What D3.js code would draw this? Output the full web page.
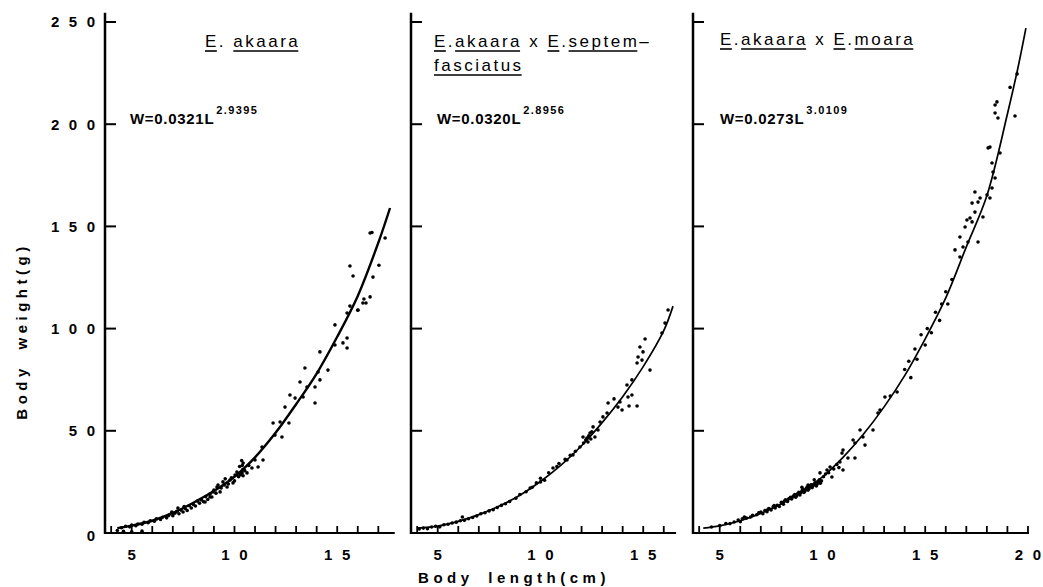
<!DOCTYPE html>
<html>
<head>
<meta charset="utf-8">
<script src="https://cdn.jsdelivr.net/npm/d3@7"></script>
<style>
  body { margin: 0; background: #fff; }
  svg { display: block; }
  .tick-label { font-family: "Liberation Sans", Arial, sans-serif; font-weight: bold; font-size: 15px; fill: #000; }
  .title { font-family: "Liberation Sans", Arial, sans-serif; font-size: 17px; letter-spacing: 2.5px; fill: #000; white-space: pre; }
  .eq { font-family: "Liberation Sans", Arial, sans-serif; font-weight: bold; fill: #000; }
  .axis-title { font-family: "Liberation Sans", Arial, sans-serif; font-weight: bold; font-size: 15px; letter-spacing: 4.5px; word-spacing: 6px; fill: #000; }
</style>
</head>
<body>
<div id="chart"></div>
<script>
// ---- data (lengths in cm, weights in g) ----
const yTickValues = [0, 50, 100, 150, 200, 250];
const xLabelValues1 = [5, 10, 15];
const xLabelValues2 = [5, 10, 15];
const xLabelValues3 = [5, 10, 15, 20];

const titles1 = [['E', true], ['.', false], [' ', false], ['akaara', true]];
const titles2 = [['E', true], ['.', false], ['akaara', true], [' x ', false], ['E', true], ['.', false], ['septem', true], ['–', false]];
const titles2b = [['fasciatus', true]];
const titles3 = [['E', true], ['.', false], ['akaara', true], [' x ', false], ['E', true], ['.', false], ['moara', true]];

const eqBase = ['W=0.0321L', 'W=0.0320L', 'W=0.0273L'];
const eqExp = ['2.9395', '2.8956', '3.0109'];

// fitted curves
const curve1L = [4.3, 5, 6, 7, 8, 9, 10, 11, 12, 13, 14, 15, 16, 17, 17.57];
const curve1W = [2.4, 3.6, 6.0, 9.8, 14.8, 20.5, 27.5, 37, 49, 63, 78, 96, 116, 142, 159];
const curve2L = [4.0, 5, 6, 7, 8, 9, 10, 11, 12, 13, 14, 15, 16, 16.45];
const curve2W = [2.4, 3.4, 5.7, 9.0, 13.2, 18.5, 25.2, 33.2, 42.7, 54, 66.7, 81.4, 99, 111];
const curve3L = [4.2, 5, 6, 7, 8, 9, 10, 11, 12, 13, 14, 15, 16, 17, 18, 19, 19.5, 19.9];
const curve3W = [2.4, 3.5, 6.0, 9.6, 14.3, 20.4, 27.5, 37, 48.4, 61.7, 77, 95, 115, 140, 165, 205, 227, 247];

// observed fish [length, weight]
const points1 = [
  [4.3, 1.2], [4.6, 0.8], [5.0, 0.6], [5.5, 0.9],
  [4.5, 2.6], [4.7, 3.3], [4.9, 3.0], [5.0, 3.9], [5.2, 3.6], [5.3, 4.4], [5.5, 4.3], [5.6, 5.2],
  [5.8, 5.0], [5.9, 6.0], [6.1, 5.8], [6.2, 6.9], [6.4, 6.6], [6.5, 7.7], [6.7, 7.4], [6.8, 8.6],
  [7.0, 8.5], [7.1, 9.7], [7.2, 10.6], [7.3, 9.4], [7.4, 11.2], [7.5, 10.3], [7.6, 12.0], [7.7, 11.0],
  [7.8, 13.3], [7.9, 12.2], [8.0, 14.0], [8.1, 13.2], [8.2, 15.6], [8.3, 14.6], [8.4, 16.2], [8.5, 15.3],
  [8.6, 17.8], [8.7, 16.4], [8.8, 19.0], [8.9, 17.6], [7.25, 12.2], [7.55, 13.0], [6.95, 10.2],
  [8.57, 15.2], [8.81, 17.6], [8.96, 20.1], [9.15, 22.5], [9.3, 20.1], [9.44, 25.0], [9.64, 22.5],
  [9.0, 21.0], [9.1, 19.5], [9.2, 23.5], [9.35, 22.0], [9.5, 23.5], [9.55, 26.5], [9.7, 24.0],
  [9.85, 27.0], [10.0, 25.5], [10.2, 27.5], [10.25, 32.5], [10.3, 28.5], [10.5, 30.5], [10.7, 33.0],
  [10.35, 35.5], [10.38, 33.0], [10.4, 31.0], [10.42, 28.0],
  [9.78, 25.9], [9.93, 24.5], [10.03, 28.4], [10.12, 29.8], [10.37, 29.4], [10.42, 34.2], [10.61, 29.4],
  [10.85, 31.8], [11.0, 35.7], [11.15, 32.3], [11.34, 42.1], [11.39, 35.7], [11.88, 53.8], [11.97, 47.9],
  [12.22, 54.3], [12.31, 47.0], [12.46, 61.6], [12.65, 53.8], [12.7, 67.5], [12.95, 66.0], [13.19, 73.9],
  [13.34, 66.5], [13.43, 80.7], [13.53, 71.4], [13.92, 71.4], [13.92, 63.6], [14.07, 78.8], [14.16, 88.6],
  [14.16, 74.9], [14.55, 79.7], [14.89, 92.0], [14.89, 101.8], [15.28, 93.0], [15.48, 90.5], [15.48, 95.4],
  [15.48, 107.6], [15.62, 111.0], [15.62, 130.6], [15.77, 125.7], [16.0, 109.0], [16.01, 109.1],
  [16.25, 112.5], [16.3, 114.5], [16.4, 112.5], [16.6, 115.5], [16.6, 146.8], [16.69, 147.0],
  [16.74, 125.2], [17.03, 131.0], [17.33, 144.3]
];
const points2 = [
  [4.1, 2.0], [4.3, 2.4], [4.5, 2.1], [4.7, 2.9], [4.9, 3.3], [5.1, 3.0], [5.3, 4.0], [5.5, 4.3],
  [5.7, 4.9], [5.9, 5.3], [6.1, 6.0], [6.2, 7.8], [6.3, 6.2], [6.5, 7.0], [6.7, 7.6], [6.9, 8.3],
  [7.1, 9.4], [7.3, 9.9], [7.5, 10.8], [7.7, 11.4], [7.9, 12.5], [8.1, 13.5], [8.3, 14.3], [8.5, 15.4],
  [8.8, 17.0], [9.0, 18.8], [9.3, 20.2], [9.6, 22.4], [9.8, 24.5], [10.0, 26.8], [10.2, 25.8],
  [9.5, 22.0], [10.0, 25.0], [10.8, 32.5], [11.2, 36.0], [11.45, 38.0], [11.7, 40.0],
  [12.1, 44.0], [12.2, 45.5], [12.35, 47.5], [12.45, 46.0], [12.5, 49.5],
  [10.4, 29.5], [10.61, 31.8], [10.9, 34.0], [11.29, 35.7], [11.58, 38.2], [11.92, 42.1], [12.07, 47.0],
  [12.26, 46.5], [12.31, 44.5], [12.41, 48.9], [12.56, 51.9], [12.65, 47.0], [12.8, 50.4], [12.9, 54.3],
  [13.04, 56.8], [13.24, 58.7], [13.29, 63.6], [13.58, 65.6], [13.77, 61.6], [13.87, 64.1], [13.97, 60.2],
  [14.21, 72.4], [14.26, 66.5], [14.31, 62.1], [14.45, 74.9], [14.45, 67.5], [14.7, 62.1], [14.7, 83.2],
  [14.75, 86.1], [14.84, 91.0], [14.94, 84.6], [14.99, 88.6], [15.09, 94.9], [15.33, 79.7], [15.91, 97.8],
  [16.06, 102.7], [16.21, 109.1]
];
const points3 = [
  [4.6, 2.9], [5.0, 3.6], [5.3, 4.6], [5.5, 4.6], [5.7, 5.4], [5.9, 6.3], [6.0, 5.5], [6.1, 6.9],
  [6.3, 7.3], [6.5, 7.8], [6.6, 8.6], [6.8, 8.9], [7.0, 10.3], [7.1, 9.4], [7.2, 11.0], [7.3, 10.4],
  [7.4, 12.0], [7.5, 11.3], [7.6, 12.8], [7.7, 12.2], [7.8, 13.6], [7.9, 13.0], [8.0, 15.0], [8.1, 14.1],
  [8.2, 16.3], [8.3, 15.4], [8.4, 17.0], [8.5, 16.6], [8.6, 18.2], [8.7, 17.5], [8.8, 19.3], [8.9, 18.6],
  [9.0, 20.6], [9.1, 19.8], [9.2, 21.6], [9.3, 21.0], [9.4, 22.8], [9.5, 22.2], [9.6, 23.8], [9.7, 23.0],
  [9.8, 25.0], [9.9, 24.4],
  [8.05, 14.6], [8.15, 15.6], [8.25, 15.9], [8.35, 16.6], [8.45, 17.5], [8.55, 17.6], [8.65, 18.8],
  [8.75, 18.4], [8.85, 19.9], [8.95, 19.7], [9.05, 21.3], [9.15, 20.6], [9.25, 22.5], [9.35, 21.7],
  [9.45, 23.6], [9.55, 23.2], [9.65, 24.6], [9.75, 24.0], [9.85, 26.0], [9.95, 25.5], [10.05, 27.5],
  [10.15, 28.9], [10.3, 29.5], [10.55, 31.3], [10.7, 33.5], [10.8, 32.0], [9.6, 26.0], [9.3, 23.5],
  [9.0, 22.4], [6.2, 7.8], [6.9, 9.9], [7.35, 11.6], [7.65, 13.4],
  [9.88, 29.4], [10.22, 30.8], [10.37, 32.3], [10.46, 27.4], [10.85, 34.7],
  [10.95, 39.1], [11.0, 40.6], [11.0, 30.8], [11.24, 36.7], [11.49, 45.5], [11.58, 44.0], [11.58, 36.7],
  [11.83, 50.4], [11.97, 47.0], [12.07, 43.0], [12.46, 50.4], [12.7, 58.7], [12.8, 60.2], [13.04, 66.5],
  [13.3, 67.0], [13.63, 69.0], [14.0, 80.0], [14.2, 84.0], [14.3, 76.0], [14.5, 90.0], [14.6, 85.0],
  [14.8, 97.0], [15.0, 92.0], [15.1, 100.0], [15.3, 98.0], [15.5, 108.0], [15.7, 104.0], [15.8, 112.0],
  [16.0, 118.0], [16.1, 112.0], [16.3, 124.0], [16.45, 138.5], [16.69, 135.0], [16.69, 144.8],
  [16.84, 139.9], [16.94, 149.7], [17.03, 153.1], [17.08, 142.4], [17.18, 154.1], [17.28, 161.4],
  [17.28, 152.2], [17.42, 166.8], [17.42, 157.0], [17.57, 161.9], [17.57, 142.4], [17.67, 163.9],
  [17.81, 154.6], [18.01, 165.4], [18.06, 188.4], [18.15, 188.8], [18.15, 163.9], [18.25, 181.0],
  [18.25, 168.8], [18.3, 176.6], [18.4, 173.7], [18.4, 209.4], [18.4, 205.5], [18.49, 210.9],
  [18.54, 203.0], [18.64, 185.9], [19.13, 218.0], [19.37, 204.0], [19.47, 224.6]
];

// ---- layout ----
const width = 1043, height = 587;
const pxPerCm = 20.55;
const lenMin = 3.7;
const yTop = 22, yBottom = 533;
const digitGap = 9.5;

const panels = [
  { left: 105, lenMax: 17.8, ticks: d3.range(4, 18), labels: xLabelValues1, title: [titles1], titleX: 205,
    curveL: curve1L, curveW: curve1W, curveWidth: 2.4, pts: points1 },
  { left: 411, lenMax: 16.6, ticks: d3.range(4, 17), labels: xLabelValues2, title: [titles2, titles2b], titleX: 434,
    curveL: curve2L, curveW: curve2W, curveWidth: 1.7, pts: points2 },
  { left: 693, lenMax: 20.05, ticks: d3.range(4, 21), labels: xLabelValues3, title: [titles3], titleX: 720,
    curveL: curve3L, curveW: curve3W, curveWidth: 1.7, pts: points3 }
];

const svg = d3.select('#chart').append('svg')
  .attr('width', width)
  .attr('height', height);

const y = d3.scaleLinear().domain([0, 250]).range([yBottom, yTop]);

// spaced-out digits, as typed on the original figure
function spacedDigits (sel) {
  sel.each(function (d) {
    const chars = String(d).split('');
    d3.select(this).selectAll('tspan')
      .data(chars)
      .enter().append('tspan')
      .attr('dx', (c, k) => k === 0 ? 0 : digitGap)
      .text(c => c);
  });
}

panels.forEach((p, i) => {
  const x = d3.scaleLinear()
    .domain([lenMin, p.lenMax])
    .range([p.left, p.left + (p.lenMax - lenMin) * pxPerCm]);
  const g = svg.append('g').attr('class', 'panel');

  // y axis line and inward ticks
  g.append('line')
    .attr('x1', p.left).attr('x2', p.left)
    .attr('y1', y(254.5)).attr('y2', yBottom + 1)
    .attr('stroke', '#000').attr('stroke-width', 2.5);
  g.selectAll('.ytick').data(yTickValues.filter(v => v > 0))
    .enter().append('line')
    .attr('class', 'ytick')
    .attr('x1', p.left).attr('x2', p.left + 11)
    .attr('y1', d => y(d)).attr('y2', d => y(d))
    .attr('stroke', '#000').attr('stroke-width', 2);

  if (i === 0) {
    g.selectAll('.ylabel').data(yTickValues)
      .enter().append('text')
      .attr('class', 'tick-label')
      .attr('x', p.left - 10)
      .attr('y', d => y(d) + (d === 0 ? 3 : 0))
      .attr('dy', '0.36em')
      .attr('text-anchor', 'end')
      .call(spacedDigits);
  }

  // x axis line and inward ticks
  g.append('line')
    .attr('x1', p.left - 1).attr('x2', x(p.lenMax))
    .attr('y1', yBottom).attr('y2', yBottom)
    .attr('stroke', '#000').attr('stroke-width', 2.2);
  g.selectAll('.xtick').data(p.ticks)
    .enter().append('line')
    .attr('class', 'xtick')
    .attr('x1', d => x(d)).attr('x2', d => x(d))
    .attr('y1', yBottom).attr('y2', yBottom - 7)
    .attr('stroke', '#000').attr('stroke-width', 1.8);
  g.selectAll('.xlabel').data(p.labels)
    .enter().append('text')
    .attr('class', 'tick-label')
    .attr('x', d => x(d))
    .attr('y', yBottom + 27)
    .attr('text-anchor', 'middle')
    .call(spacedDigits);

  // fitted curve
  const line = d3.line()
    .x(d => x(d[0]))
    .y(d => y(d[1]))
    .curve(d3.curveCatmullRom.alpha(0.5));
  g.append('path')
    .datum(p.curveL.map((l, k) => [l, p.curveW[k]]))
    .attr('d', line)
    .attr('fill', 'none')
    .attr('stroke', '#000')
    .attr('stroke-width', p.curveWidth);

  // observations
  g.selectAll('.pt').data(p.pts)
    .enter().append('circle')
    .attr('class', 'pt')
    .attr('cx', d => x(d[0]))
    .attr('cy', d => y(d[1]))
    .attr('r', 1.8)
    .attr('fill', '#000');

  // title with underlined words
  p.title.forEach((row, r) => {
    let cx = p.titleX;
    const by = (i === 2 ? 45 : 47) + r * 24;
    row.forEach(([txt, under]) => {
      const t = g.append('text')
        .attr('class', 'title')
        .attr('xml:space', 'preserve')
        .attr('x', cx)
        .attr('y', by)
        .text(txt);
      const w = t.node().getComputedTextLength();
      if (under) {
        g.append('line')
          .attr('x1', cx).attr('x2', cx + w - 2)
          .attr('y1', by + 4).attr('y2', by + 4)
          .attr('stroke', '#000').attr('stroke-width', 1.6);
      }
      cx += w;
    });
  });

  // equation
  const eqX = i === 0 ? 130 : (i === 1 ? 437 : 720);
  const eq = g.append('text').attr('class', 'eq').attr('x', eqX).attr('y', 124);
  eq.append('tspan').attr('font-size', 15).attr('letter-spacing', 0.7).text(eqBase[i]);
  eq.append('tspan').attr('font-size', 11).attr('letter-spacing', 1.4).attr('dy', -10).attr('dx', 2).text(eqExp[i]);
});

// axis titles
svg.append('text')
  .attr('class', 'axis-title')
  .attr('x', 514)
  .attr('y', 583)
  .attr('text-anchor', 'middle')
  .text('Body length(cm)');

svg.append('text')
  .attr('class', 'axis-title')
  .attr('transform', 'translate(27,331) rotate(-90)')
  .attr('text-anchor', 'middle')
  .text('Body weight(g)');
</script>
</body>
</html>
